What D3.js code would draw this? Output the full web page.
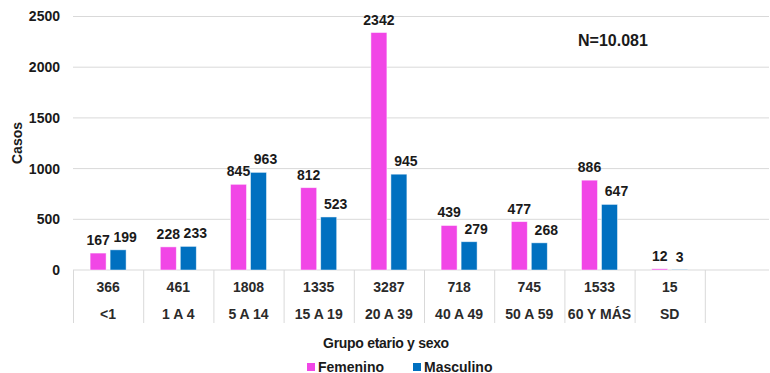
<!DOCTYPE html>
<html>
<head>
<meta charset="utf-8">
<script src="https://cdn.jsdelivr.net/npm/d3@7"></script>
<style>
  html, body { margin: 0; padding: 0; background: #fff; }
  svg { display: block; font-family: "Liberation Sans", Arial, sans-serif; }
</style>
</head>
<body>
<svg id="chart" width="770" height="373"></svg>
<script>
// Casos por grupo etario y sexo
const groups = ["<1", "1 A 4", "5 A 14", "15 A 19", "20 A 39", "40 A 49", "50 A 59", "60 Y MÁS", "SD", ""];
const totals = ["366", "461", "1808", "1335", "3287", "718", "745", "1533", "15", ""];
const femenino = [167, 228, 845, 812, 2342, 439, 477, 886, 12];
const masculino = [199, 233, 963, 523, 945, 279, 268, 647, 3];
const yTicks = [0, 500, 1000, 1500, 2000, 2500];
const seriesNames = ["Femenino", "Masculino"];
const seriesColors = ["#F146E6", "#0070C0"];

const svg = d3.select("#chart");
const plotLeft = 73, plotRight = 775, plotTop = 16.5, plotBase = 270;

const x = d3.scaleBand().domain(groups.map((g, i) => i)).range([plotLeft, plotRight]).padding(0);
const bw = x.bandwidth();
const xs = d3.scaleBand().domain([0, 1]).range([bw / 2 - 18, bw / 2 + 18]).paddingInner(0.2);
const y = d3.scaleLinear().domain([0, 2500]).range([plotBase, plotTop]);
const color = d3.scaleOrdinal().domain([0, 1]).range(seriesColors);

// gridlines
svg.append("g").selectAll("line").data(yTicks).join("line")
  .attr("x1", plotLeft).attr("x2", 769)
  .attr("y1", d => y(d)).attr("y2", d => y(d))
  .attr("stroke", "#d9d9d9").attr("stroke-width", 1);

// y axis labels
const yAxis = svg.append("g").attr("transform", `translate(${plotLeft},0)`)
  .call(d3.axisLeft(y).tickValues(yTicks).tickFormat(d3.format("d")).tickSize(0).tickPadding(13));
yAxis.select(".domain").remove();
yAxis.selectAll("text")
  .attr("font-family", "Liberation Sans, Arial, sans-serif")
  .attr("font-size", 14).attr("font-weight", "bold").attr("fill", "#1a1a1a");

// y axis title
svg.append("text")
  .attr("transform", "translate(22,143) rotate(-90)")
  .attr("text-anchor", "middle")
  .attr("font-size", 14).attr("font-weight", "bold").attr("fill", "#1a1a1a")
  .text("Casos");

// bars
const series = [femenino, masculino];
const barData = [];
series.forEach((vals, s) => vals.forEach((v, i) => barData.push({ s, i, v })));

svg.append("g").selectAll("rect").data(barData).join("rect")
  .attr("x", d => x(d.i) + xs(d.s))
  .attr("width", xs.bandwidth())
  .attr("y", d => y(d.v))
  .attr("height", d => plotBase - y(d.v))
  .attr("fill", d => color(d.s))
  .attr("stroke", "#ffffff").attr("stroke-opacity", 0.6).attr("stroke-width", 0.8);

// value labels
svg.append("g").selectAll("text").data(barData).join("text")
  .attr("x", d => x(d.i) + xs(d.s) + xs.bandwidth() / 2 + (d.s === 1 && d.v > 100 ? 7 : 0))
  .attr("y", d => y(d.v) - 8)
  .attr("text-anchor", "middle")
  .attr("font-size", 14).attr("font-weight", "bold").attr("fill", "#1a1a1a")
  .text(d => d.v);

// category table below axis
const table = svg.append("g");
table.selectAll("line.div").data(d3.range(groups.length)).join("line")
  .attr("class", "div")
  .attr("x1", i => x(i) + 0.5).attr("x2", i => x(i) + 0.5)
  .attr("y1", plotBase).attr("y2", 323)
  .attr("stroke", "#d9d9d9").attr("stroke-width", 1);

table.selectAll("text.tot").data(totals).join("text")
  .attr("class", "tot")
  .attr("x", (d, i) => x(i) + bw / 2)
  .attr("y", 292)
  .attr("text-anchor", "middle")
  .attr("font-size", 14).attr("font-weight", "bold").attr("fill", "#2a2a2a")
  .text(d => d);

table.selectAll("text.cat").data(groups).join("text")
  .attr("class", "cat")
  .attr("x", (d, i) => x(i) + bw / 2)
  .attr("y", 319)
  .attr("text-anchor", "middle")
  .attr("font-size", 14).attr("font-weight", "bold").attr("fill", "#2a2a2a")
  .text(d => d);

// x axis title
svg.append("text")
  .attr("x", 386).attr("y", 348)
  .attr("text-anchor", "middle")
  .attr("font-size", 14).attr("font-weight", "bold").attr("fill", "#1a1a1a")
  .attr("letter-spacing", -0.3)
  .text("Grupo etario y sexo");

// N annotation
svg.append("text")
  .attr("x", 578).attr("y", 46)
  .attr("font-size", 16).attr("font-weight", "bold").attr("fill", "#1a1a1a")
  .text("N=10.081");

// legend
const legendX = [307, 413];
const legend = svg.append("g").selectAll("g").data(seriesNames).join("g")
  .attr("transform", (d, i) => `translate(${legendX[i]},363)`);
legend.append("rect").attr("width", 8).attr("height", 8)
  .attr("fill", (d, i) => seriesColors[i]);
legend.append("text").attr("x", 11).attr("y", 8.5)
  .attr("font-size", 14).attr("font-weight", "bold").attr("fill", "#1a1a1a")
  .text(d => d);
</script>
</body>
</html>
